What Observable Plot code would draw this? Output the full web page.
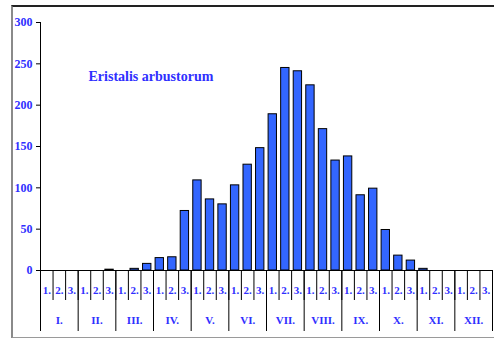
<!DOCTYPE html>
<html><head><meta charset="utf-8">
<script src="https://cdn.jsdelivr.net/npm/d3@7"></script>
<script src="https://cdn.jsdelivr.net/npm/@observablehq/plot@0.6"></script>
<style>
body{margin:0;background:#fff;}
#wrap{position:relative;width:494px;height:338px;overflow:hidden;}
#box{position:absolute;left:11px;top:5px;width:500px;height:330px;border-left:2px solid #8a8a8a;border-top:2px solid #222;border-bottom:2px solid #9a9a9a;}
#chart{position:absolute;left:0;top:0;}
#chart svg{background:transparent;}
#chart g[aria-label="y-axis tick label"], #chart g[aria-label="x-axis tick label"]{fill:#2f2fff;}
</style></head><body>
<div id="wrap"><div id="box"></div><div id="chart"></div></div>
<script>
const months = ["I.","II.","III.","IV.","V.","VI.","VII.","VIII.","IX.","X.","XI.","XII."];
const decades = ["1.","2.","3."];
const counts = [0,0,0, 0,0,1, 0,2,8, 15,16,72, 109,86,80, 103,128,148, 189,245,241, 224,171,133, 138,91,99, 49,18,12, 2,0,0, 0,0,0];
const yTicks = [0,50,100,150,200,250,300];
const title = "Eristalis arbustorum";

const data = counts.map((v,i)=>({i, v}));
const chart = Plot.plot({
  width: 494, height: 338,
  marginLeft: 40, marginRight: 2, marginTop: 22, marginBottom: 68,
  style: {fontFamily: "Liberation Serif", fontWeight: "bold", fontSize: "11px", color: "black", background: "transparent"},
  x: {domain: [0, 36]},
  y: {domain: [0, 300]},
  marks: [
    Plot.rectY(data, {x1: d=>d.i, x2: d=>d.i+1, y: "v", insetLeft: 2.1, insetRight: 2.1, fill: "#3366ff", stroke: "black", strokeWidth: 1}),
    Plot.ruleX([0], {stroke: "black"}),
    Plot.ruleY([0], {stroke: "black"}),
    Plot.axisY({ticks: yTicks, tickSize: 4, tickPadding: 4, label: null, fontSize: 12}),
    Plot.axisX({ticks: d3.range(0, 37), tickSize: 30, tickFormat: () => "", label: null}),
    Plot.axisX({ticks: d3.range(0, 37, 3), tickSize: 61, tickFormat: () => "", label: null}),
    Plot.axisX({ticks: d3.range(36).map(i=>i+0.5), tickSize: 0, tickPadding: 16, fontSize: 11,
      tickFormat: d => decades[Math.floor(d) % 3], label: null}),
    Plot.axisX({ticks: d3.range(12).map(i=>i*3+1.5), tickSize: 0, tickPadding: 46, fontSize: 11,
      tickFormat: d => months[Math.floor(d/3)], label: null}),
    Plot.text([title], {frameAnchor: "top-left", dx: 48, dy: 49, textAnchor: "start", fontSize: 14, fill: "#2f2fff"})
  ]
});
document.getElementById("chart").appendChild(chart);
</script>
</body></html>
